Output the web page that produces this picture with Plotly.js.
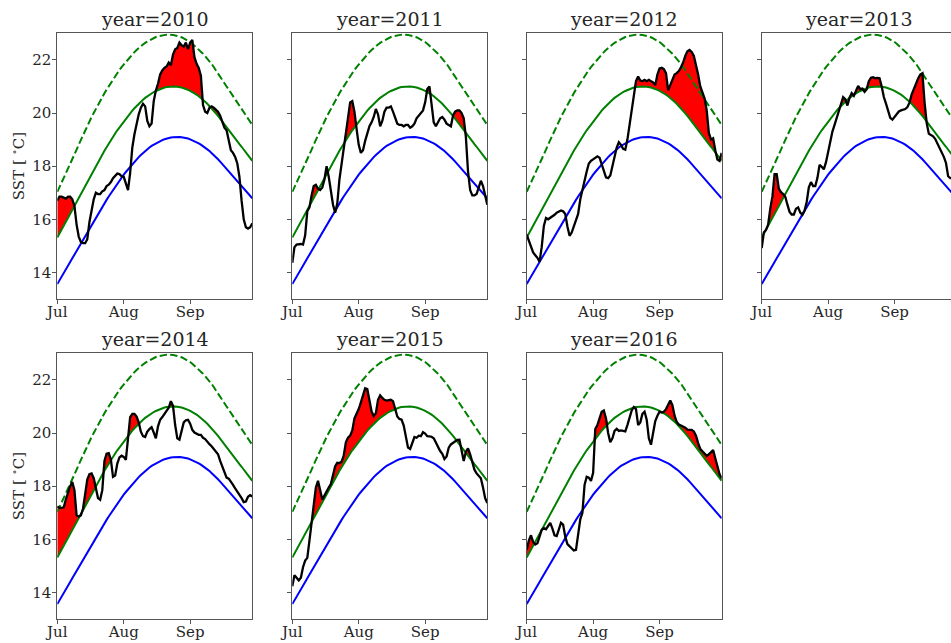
<!DOCTYPE html>
<html>
<head>
<meta charset="utf-8">
<script src="https://cdn.plot.ly/plotly-3.0.1.min.js"></script>
<style>
  html, body { margin: 0; padding: 0; overflow: hidden; background: #fff; }
  #chart { width: 960px; height: 643px; }
</style>
</head>
<body>
<div id="chart"></div>
<script>
// ---------------- DATA ----------------
const years = [2010, 2011, 2012, 2013, 2014, 2015, 2016];
const monthLabels = ['Jul', 'Aug', 'Sep'];
const yTickValues = [14, 16, 18, 20, 22];
const nDays = 92; // 1 Jul .. 30 Sep

// seasonal climatology (blue)
const climMean = [13.56,13.69,13.83,13.97,14.11,14.25,14.39,14.53,14.67,14.81,
14.95,15.09,15.23,15.37,15.52,15.66,15.79,15.93,16.07,16.21,
16.34,16.47,16.60,16.73,16.86,16.98,17.11,17.23,17.34,17.46,
17.57,17.68,17.78,17.88,17.98,18.08,18.17,18.26,18.34,18.42,
18.50,18.57,18.63,18.70,18.76,18.81,18.86,18.91,18.95,18.98,
19.01,19.04,19.06,19.08,19.09,19.10,19.10,19.10,19.09,19.08,
19.06,19.04,19.01,18.98,18.95,18.91,18.86,18.81,18.76,18.70,
18.63,18.57,18.50,18.42,18.34,18.26,18.17,18.08,17.99,17.90,
17.80,17.71,17.62,17.53,17.44,17.34,17.25,17.16,17.07,16.98,
16.88,16.79];

// 90th percentile threshold (green solid)
const climThresh = [15.31,15.46,15.61,15.76,15.91,16.06,16.21,16.37,16.52,16.67,
16.82,16.98,17.13,17.28,17.43,17.58,17.73,17.87,18.02,18.16,
18.30,18.44,18.58,18.71,18.85,18.98,19.10,19.23,19.35,19.46,
19.58,19.69,19.79,19.90,19.99,20.09,20.18,20.27,20.35,20.42,
20.50,20.57,20.63,20.69,20.74,20.79,20.83,20.87,20.91,20.93,
20.96,20.98,20.99,21.00,21.00,21.00,20.99,20.98,20.96,20.93,
20.91,20.87,20.83,20.79,20.74,20.69,20.63,20.57,20.50,20.42,
20.35,20.27,20.18,20.09,19.99,19.89,19.78,19.68,19.57,19.47,
19.36,19.25,19.15,19.04,18.94,18.83,18.73,18.62,18.51,18.41,
18.30,18.20];

// 2x threshold level (green dashed)
const climDouble = [17.03,17.20,17.37,17.54,17.71,17.89,18.07,18.24,18.42,18.62,
18.81,18.99,19.19,19.36,19.52,19.69,19.85,20.00,20.16,20.31,
20.45,20.60,20.74,20.88,21.01,21.14,21.26,21.39,21.50,21.62,
21.73,21.83,21.93,22.03,22.12,22.21,22.29,22.37,22.45,22.51,
22.58,22.64,22.69,22.74,22.78,22.82,22.86,22.89,22.91,22.93,
22.94,22.95,22.95,22.95,22.94,22.92,22.90,22.88,22.85,22.81,
22.77,22.72,22.67,22.61,22.54,22.47,22.40,22.32,22.23,22.14,
22.05,21.95,21.85,21.73,21.60,21.48,21.36,21.24,21.12,21.00,
20.88,20.76,20.64,20.52,20.40,20.27,20.15,20.03,19.91,19.79,
19.67,19.55];

// daily SST, 1 Jul .. 30 Sep
const sst2010 = [16.70,16.85,16.85,16.80,16.78,16.85,16.85,16.75,16.50,15.80,
15.35,15.15,15.10,15.10,15.25,15.90,16.40,16.75,17.00,16.95,
16.95,17.05,17.10,17.25,17.30,17.40,17.55,17.65,17.72,17.70,
17.62,17.60,17.30,17.10,17.75,18.70,19.20,19.60,19.95,20.20,
20.35,20.25,19.70,19.50,19.60,20.45,20.85,21.10,21.45,21.60,
21.70,21.75,21.90,21.80,22.20,22.40,22.45,22.65,22.55,22.50,
22.65,22.40,22.65,22.75,22.10,21.85,21.70,21.40,20.30,20.05,
20.00,20.20,20.25,20.20,20.12,20.05,19.90,19.65,19.45,19.35,
18.90,18.60,18.50,18.35,18.10,17.60,16.70,16.00,15.70,15.65,
15.70,15.85];
const sst2011 = [14.36,14.95,15.05,15.07,15.07,15.05,15.40,16.30,16.45,16.90,
17.25,17.30,17.15,17.10,17.20,17.50,18.00,17.60,17.10,16.55,
16.25,16.60,17.50,18.10,18.80,19.40,19.95,20.40,20.45,20.05,
19.40,18.80,18.50,18.60,18.95,19.25,19.50,19.65,19.85,20.15,
19.95,19.50,19.70,20.05,20.20,20.20,20.25,20.05,19.80,19.60,
19.55,19.55,19.50,19.55,19.55,19.45,19.50,19.60,19.80,19.90,
20.00,20.10,20.40,20.90,21.00,20.40,19.65,19.50,19.65,19.80,
19.85,19.75,19.60,19.55,19.50,19.90,20.05,20.10,20.10,20.00,
19.80,19.10,17.80,17.10,16.90,16.90,16.95,17.20,17.45,17.25,
16.90,16.55];
const sst2012 = [15.42,15.18,15.02,14.75,14.65,14.55,14.40,14.95,15.75,16.05,
16.00,16.05,16.12,16.17,16.25,16.30,16.33,16.30,16.20,15.73,
15.38,15.50,15.75,16.00,16.20,16.75,17.15,17.45,17.80,18.10,
18.20,18.25,18.30,18.37,18.32,18.10,17.80,17.58,17.55,17.65,
18.00,18.35,18.70,18.90,18.80,18.65,18.62,19.00,19.55,20.10,
20.70,21.20,21.37,21.22,21.20,21.25,21.20,21.25,21.20,21.15,
21.05,21.45,21.68,21.70,21.65,21.50,20.85,21.05,21.30,21.45,
21.50,21.58,21.72,21.90,22.15,22.32,22.37,22.30,22.15,21.85,
21.45,21.00,20.80,20.55,20.10,19.25,19.00,19.05,18.60,18.25,
18.20,18.50];
const sst2013 = [14.92,15.50,15.60,15.80,16.40,16.85,17.70,17.70,17.15,17.02,
16.95,16.85,16.55,16.28,16.18,16.18,16.40,16.45,16.25,16.17,
16.33,16.65,17.20,17.40,17.25,17.25,17.55,18.05,17.98,17.88,
18.15,18.55,18.95,19.30,19.55,19.80,20.10,20.37,20.60,20.52,
20.28,20.58,20.75,20.65,20.85,21.02,20.90,20.92,20.80,20.90,
21.20,21.33,21.35,21.31,21.32,21.31,21.00,20.60,20.35,20.06,
19.82,19.75,19.85,19.98,20.06,20.10,20.13,20.15,20.22,20.40,
20.70,20.92,21.10,21.30,21.45,21.50,20.40,19.62,19.22,19.16,
19.12,19.02,18.85,18.70,18.55,18.35,18.12,17.62,17.55,17.55,
17.50,17.50];
const sst2014 = [17.24,17.18,17.18,17.20,17.50,17.75,18.00,18.15,17.85,16.90,
16.86,16.90,17.15,17.70,18.25,18.45,18.48,18.30,17.90,17.55,
17.49,17.85,18.95,19.22,19.24,19.00,18.35,18.40,18.85,19.08,
19.15,19.10,18.99,19.95,20.60,20.72,20.72,20.62,20.40,20.05,
19.88,19.85,20.05,20.15,20.22,20.02,19.80,20.25,20.50,20.60,
20.72,20.85,20.95,21.20,21.02,20.30,19.80,19.75,20.05,20.40,
20.48,20.50,20.35,20.12,20.02,19.97,19.93,19.93,19.82,19.77,
19.66,19.58,19.50,19.40,19.31,19.20,18.95,18.72,18.48,18.32,
18.28,18.18,18.05,17.92,17.80,17.72,17.55,17.40,17.42,17.60,
17.66,17.61];
const sst2015 = [14.23,14.65,14.55,14.45,14.55,14.95,15.20,15.30,15.95,16.65,
17.30,17.95,18.20,17.90,17.50,17.65,17.82,17.95,18.08,18.45,
18.75,18.88,18.87,18.92,19.15,19.65,19.82,19.90,20.10,20.55,
20.72,20.90,21.15,21.45,21.68,21.65,21.20,20.81,20.64,20.75,
21.25,21.42,21.32,21.25,21.22,21.23,21.25,21.20,20.85,20.62,
20.53,20.50,20.28,19.87,19.45,19.40,19.65,19.85,19.82,19.90,
19.88,20.03,19.98,19.88,19.87,19.86,19.80,19.62,19.50,19.32,
19.22,19.02,19.12,19.45,19.57,19.62,19.67,19.74,19.75,19.37,
18.95,19.30,19.42,19.20,18.90,18.62,18.48,18.38,18.30,17.95,
17.55,17.36];
const sst2016 = [15.61,15.95,16.15,15.90,15.80,15.85,16.10,16.35,16.42,16.38,
16.50,16.62,16.40,16.15,16.12,16.35,16.62,16.55,16.10,15.82,
15.73,15.65,15.58,15.60,16.20,16.75,17.00,18.05,18.35,18.32,
18.20,18.50,20.15,20.30,20.55,20.80,20.85,20.55,20.00,19.65,
19.80,20.08,20.16,20.08,20.10,20.07,20.06,20.30,20.58,20.85,
20.98,20.90,20.30,20.40,20.72,20.80,20.50,19.80,19.56,19.95,
20.45,20.65,20.80,20.77,20.80,20.90,21.08,21.22,21.05,20.65,
20.42,20.32,20.28,20.25,20.20,20.13,20.12,20.12,20.06,19.90,
19.62,19.40,19.31,19.24,19.14,19.20,19.30,19.36,19.05,18.70,
18.45,18.30];

const sstSeries = [sst2010, sst2011, sst2012, sst2013, sst2014, sst2015, sst2016];

// ---------------- LAYOUT (pixels) ----------------
const W = 960, H = 643;
const colLeft = [57.3, 292.3, 526.7, 761.7];
const rowTop = [33.3, 353.3];
const panelW = 195, panelH = 265.7;

function dateStr(year, d) {
  const t = new Date(Date.UTC(year, 6, 1 + d));
  return t.toISOString().slice(0, 10);
}

const serif = 'DejaVu Serif, Liberation Serif, serif';
const textColor = '#262626';
const frameColor = '#555555';

const traces = [];
const layout = {
  width: W, height: H,
  margin: {l: 0, r: 0, t: 0, b: 0},
  paper_bgcolor: '#ffffff',
  plot_bgcolor: '#ffffff',
  showlegend: false,
  annotations: [],
  font: {family: serif, color: textColor}
};

years.forEach((year, i) => {
  const n = i + 1;
  const xa = 'x' + (n === 1 ? '' : n);
  const ya = 'y' + (n === 1 ? '' : n);
  const col = i % 4, row = Math.floor(i / 4);
  const x0 = colLeft[col] / W, x1 = (colLeft[col] + panelW) / W;
  const yTop = 1 - rowTop[row] / H, yBot = 1 - (rowTop[row] + panelH) / H;

  const dates = [];
  for (let d = 0; d < nDays; d++) dates.push(dateStr(year, d));
  const sst = sstSeries[i];
  const upper = sst.map((v, k) => Math.max(v, climThresh[k]));

  // fill base
  traces.push({x: dates, y: climThresh, xaxis: xa, yaxis: ya, type: 'scatter', mode: 'lines',
    line: {width: 0, color: 'rgba(0,0,0,0)'}, hoverinfo: 'skip'});
  // red exceedance fill
  traces.push({x: dates, y: upper, xaxis: xa, yaxis: ya, type: 'scatter', mode: 'lines',
    fill: 'tonexty', fillcolor: '#ff0000', line: {width: 0, color: 'rgba(0,0,0,0)'}, hoverinfo: 'skip'});
  // climatology
  traces.push({x: dates, y: climMean, xaxis: xa, yaxis: ya, type: 'scatter', mode: 'lines',
    line: {color: '#0000ff', width: 2}});
  traces.push({x: dates, y: climThresh, xaxis: xa, yaxis: ya, type: 'scatter', mode: 'lines',
    line: {color: '#008000', width: 2}});
  traces.push({x: dates, y: climDouble, xaxis: xa, yaxis: ya, type: 'scatter', mode: 'lines',
    line: {color: '#008000', width: 2, dash: '7.4px,3.2px'}});
  // SST
  traces.push({x: dates, y: sst, xaxis: xa, yaxis: ya, type: 'scatter', mode: 'lines',
    line: {color: '#000000', width: 2.3}});

  const xKey = 'xaxis' + (n === 1 ? '' : n);
  const yKey = 'yaxis' + (n === 1 ? '' : n);
  layout[xKey] = {
    domain: [x0, x1], anchor: ya, type: 'date',
    range: [dateStr(year, 0), dateStr(year, nDays - 1)],
    tickvals: [dateStr(year, 0), dateStr(year, 31), dateStr(year, 62)],
    ticktext: monthLabels,
    ticks: 'outside', ticklen: 4, tickwidth: 1, tickcolor: frameColor,
    ticklabelstandoff: -5,
    showline: true, mirror: true, linecolor: frameColor, linewidth: 1,
    showgrid: false, zeroline: false,
    tickfont: {family: serif, size: 15, color: textColor}
  };
  layout[yKey] = {
    domain: [yBot, yTop], anchor: xa,
    range: [13, 23], tickvals: yTickValues,
    ticks: 'outside', ticklen: 4, tickwidth: 1, tickcolor: frameColor,
    ticklabelstandoff: -2,
    showline: true, mirror: true, linecolor: frameColor, linewidth: 1,
    showgrid: false, zeroline: false,
    showticklabels: col === 0,
    tickfont: {family: serif, size: 15, color: textColor}
  };

  layout.annotations.push({
    text: 'year=' + year, xref: 'paper', yref: 'paper',
    x: (x0 + x1) / 2, y: yTop, xanchor: 'center', yanchor: 'bottom', yshift: 1,
    showarrow: false, font: {family: serif, size: 19, color: textColor}
  });
  if (col === 0) {
    layout.annotations.push({
      text: 'SST [ <sup>∘</sup>C]', xref: 'paper', yref: 'paper',
      x: 18 / W, y: (yBot + yTop) / 2, xanchor: 'center', yanchor: 'middle',
      textangle: -90, showarrow: false, font: {family: serif, size: 15, color: textColor}
    });
  }
});

Plotly.newPlot('chart', traces, layout, {staticPlot: true, displayModeBar: false});
</script>
</body>
</html>
